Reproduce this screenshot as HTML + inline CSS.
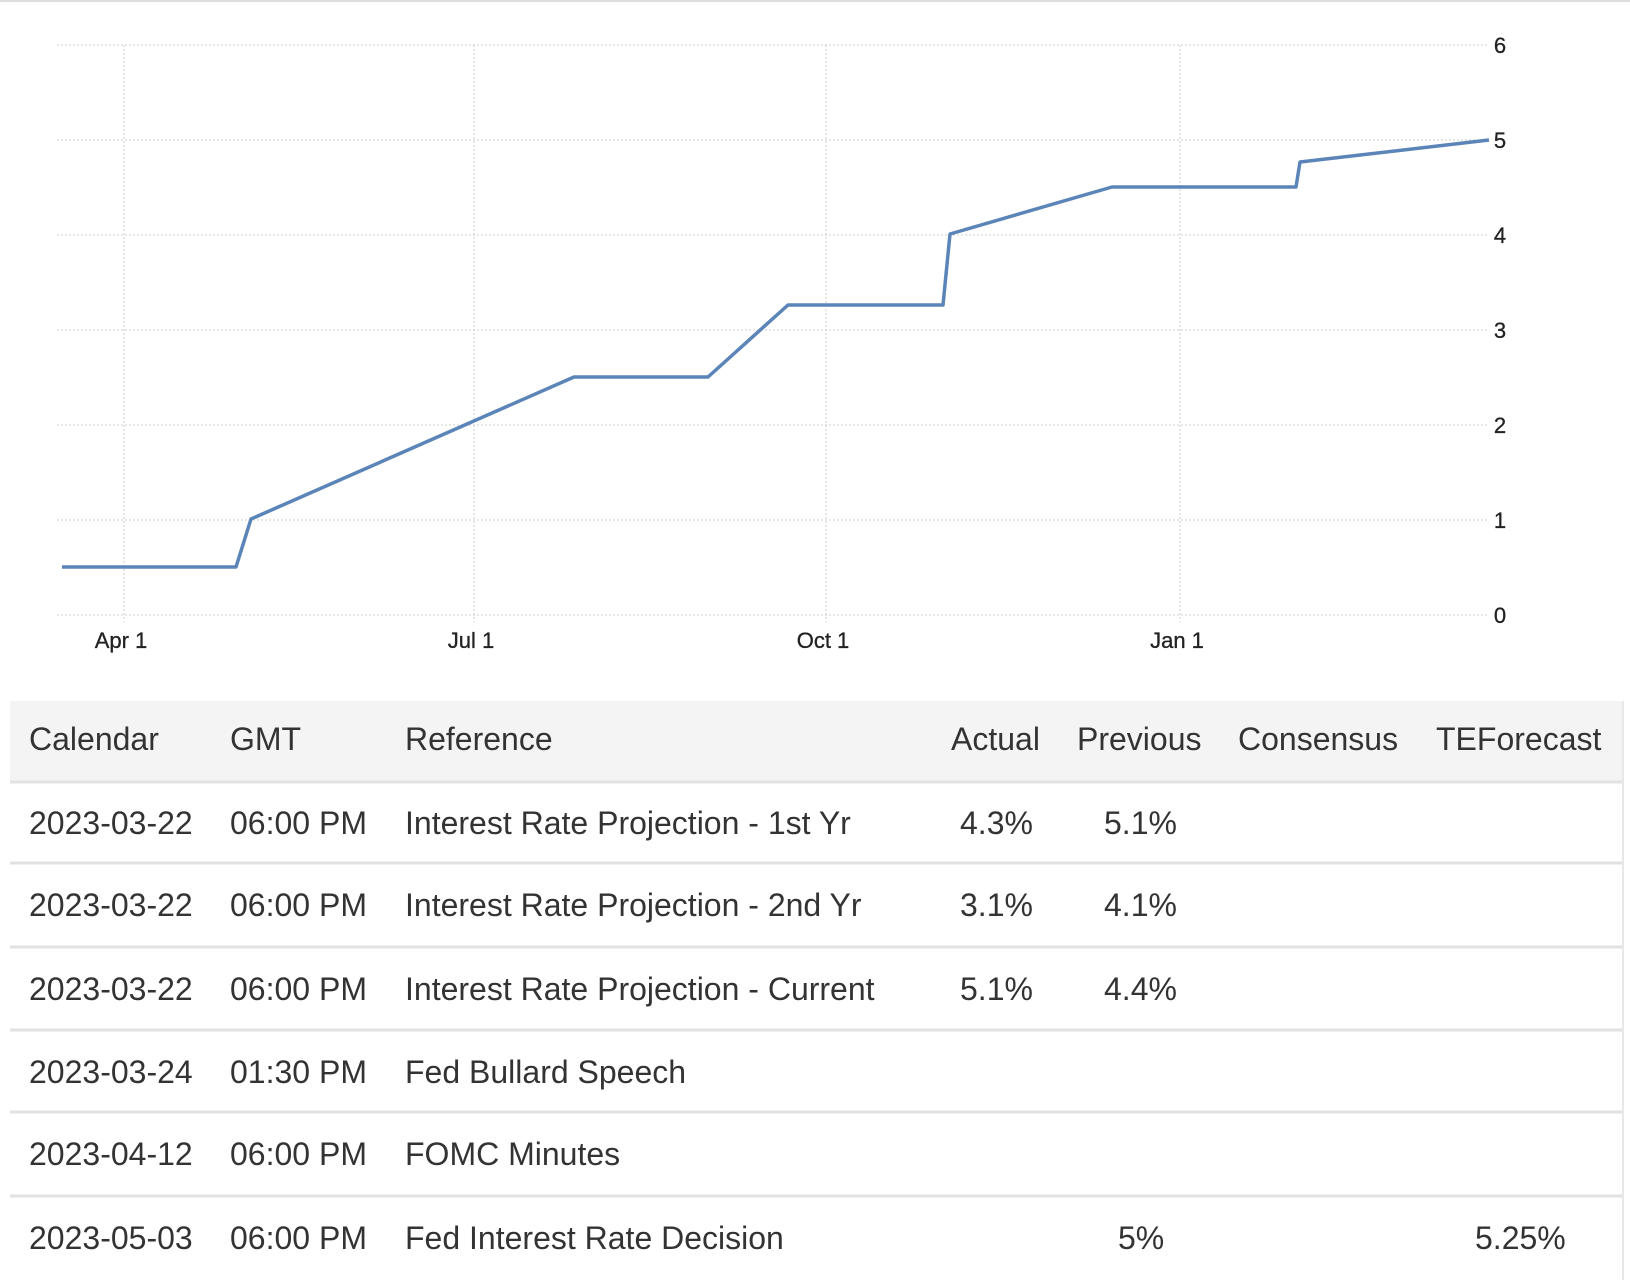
<!DOCTYPE html>
<html><head><meta charset="utf-8"><style>
html,body{margin:0;padding:0;background:#fff;}
svg{display:block;font-family:"Liberation Sans",Arial,sans-serif;}
</style></head><body>
<svg width="1630" height="1280" viewBox="0 0 1630 1280" xmlns="http://www.w3.org/2000/svg">
<rect x="0" y="0" width="1630" height="1280" fill="#fff"/>
<line x1="0" y1="1" x2="1630" y2="1" stroke="#ddd" stroke-width="2"/>
<g stroke="#ccc" stroke-width="1" stroke-dasharray="2,2">
<line x1="57" y1="45" x2="1489" y2="45"/>
<line x1="57" y1="140" x2="1489" y2="140"/>
<line x1="57" y1="235" x2="1489" y2="235"/>
<line x1="57" y1="330" x2="1489" y2="330"/>
<line x1="57" y1="425" x2="1489" y2="425"/>
<line x1="57" y1="520" x2="1489" y2="520"/>
<line x1="57" y1="615" x2="1489" y2="615"/>
<line x1="124" y1="45" x2="124" y2="622"/>
<line x1="474" y1="45" x2="474" y2="622"/>
<line x1="826" y1="45" x2="826" y2="622"/>
<line x1="1180" y1="45" x2="1180" y2="622"/>
</g>
<g font-size="22" fill="#222" text-anchor="middle" stroke="#222" stroke-width="0.3">
<text x="1500" y="53">6</text><text x="1500" y="148">5</text><text x="1500" y="243">4</text>
<text x="1500" y="338">3</text><text x="1500" y="433">2</text><text x="1500" y="528">1</text>
<text x="1500" y="623">0</text>
<text x="121" y="648">Apr 1</text><text x="471" y="648">Jul 1</text>
<text x="823" y="648">Oct 1</text><text x="1177" y="648">Jan 1</text>
</g>
<polyline fill="none" stroke="#5b84b8" stroke-width="3.5" stroke-linejoin="round"
points="62,567 236,567 251,519 574,377 708,377 788,305 943,305 950,234 1112,187 1296,187 1300,162 1489,140"/>
<rect x="10" y="701" width="1613" height="80" fill="#f4f4f4"/>
<g stroke="#e2e2e2" stroke-width="3">
<line x1="10" y1="782" x2="1623" y2="782"/>
<line x1="10" y1="863" x2="1623" y2="863"/>
<line x1="10" y1="947" x2="1623" y2="947"/>
<line x1="10" y1="1030" x2="1623" y2="1030"/>
<line x1="10" y1="1112" x2="1623" y2="1112"/>
<line x1="10" y1="1196" x2="1623" y2="1196"/>
</g>
<line x1="1623" y1="701" x2="1623" y2="1280" stroke="#e8e8e8" stroke-width="2"/>
<g font-size="32" fill="#333">
<text x="29" y="750">Calendar</text><text x="230" y="750">GMT</text><text x="405" y="750">Reference</text>
<text x="951" y="750">Actual</text><text x="1077" y="750">Previous</text><text x="1238" y="750">Consensus</text><text x="1436" y="750">TEForecast</text>
<g>
<text x="29" y="834">2023-03-22</text><text x="230" y="834">06:00 PM</text><text x="405" y="834">Interest Rate Projection - 1st Yr</text><text x="960" y="834">4.3%</text><text x="1104" y="834">5.1%</text>
<text x="29" y="916">2023-03-22</text><text x="230" y="916">06:00 PM</text><text x="405" y="916">Interest Rate Projection - 2nd Yr</text><text x="960" y="916">3.1%</text><text x="1104" y="916">4.1%</text>
<text x="29" y="1000">2023-03-22</text><text x="230" y="1000">06:00 PM</text><text x="405" y="1000">Interest Rate Projection - Current</text><text x="960" y="1000">5.1%</text><text x="1104" y="1000">4.4%</text>
<text x="29" y="1083">2023-03-24</text><text x="230" y="1083">01:30 PM</text><text x="405" y="1083">Fed Bullard Speech</text>
<text x="29" y="1165">2023-04-12</text><text x="230" y="1165">06:00 PM</text><text x="405" y="1165">FOMC Minutes</text>
<text x="29" y="1249">2023-05-03</text><text x="230" y="1249">06:00 PM</text><text x="405" y="1249">Fed Interest Rate Decision</text><text x="1118" y="1249">5%</text><text x="1475" y="1249">5.25%</text>
</g>
</g>
</svg>
</body></html>
